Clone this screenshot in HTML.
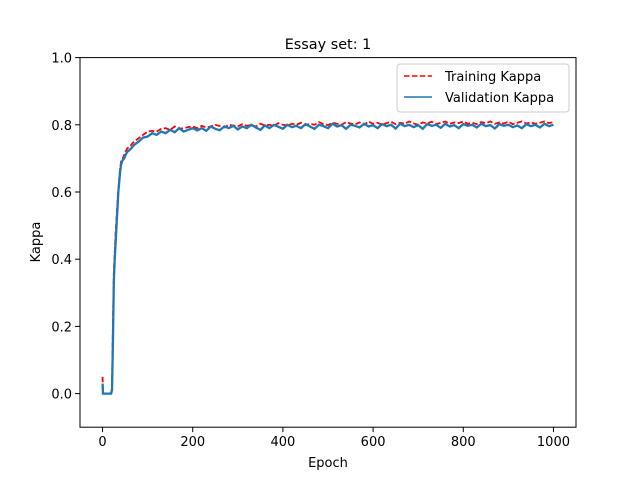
<!DOCTYPE html>
<html><head><meta charset="utf-8"><style>
body{margin:0;background:#fff}
svg text{font-family:"DejaVu Sans","Liberation Sans",sans-serif;fill:#000}
</style></head><body>
<svg id="chart" width="640" height="480" viewBox="0 0 640 480" xmlns="http://www.w3.org/2000/svg">
<rect width="640" height="480" fill="#fff"/>
<g id="plot"></g>
<rect x="80" y="57.6" width="496" height="369.6" fill="none" stroke="#000" stroke-width="1"/>
<g id="xticks"></g>
<g id="yticks"></g>
<text x="328" y="49" font-size="14.4" text-anchor="middle">Essay set: 1</text>
<text x="328" y="467" font-size="13" text-anchor="middle">Epoch</text>
<text x="40" y="242" font-size="13" text-anchor="middle" transform="rotate(-90 40 242)">Kappa</text>
<g>
<rect x="397" y="64" width="172" height="48" rx="3" fill="#fff" fill-opacity="0.8" stroke="#ccc"/>
<line x1="404" y1="76" x2="432" y2="76" stroke="#f00" stroke-width="1.5" stroke-dasharray="5.5,2.4"/>
<text x="445" y="81" font-size="13">Training Kappa</text>
<line x1="404" y1="97" x2="432" y2="97" stroke="#1f77b4" stroke-width="1.5"/>
<text x="445" y="102" font-size="13">Validation Kappa</text>
</g>
</svg>
<script>
const epochsEarly=[0,1,2,5,10,15,19,21,23,25,27,29,31,33,35,37,39,41,43,45,48,51,55];
const trainEarly=[0.05,0.0,0.0,0.0,0.0,0.0,0.0,0.02,0.2,0.36,0.42,0.48,0.52,0.57,0.6,0.64,0.67,0.69,0.7,0.7,0.71,0.72,0.73];
const valEarly=[0.03,0.0,0.0,0.0,0.0,0.0,0.0,0.01,0.15,0.33,0.4,0.45,0.5,0.55,0.6,0.63,0.66,0.68,0.69,0.695,0.7,0.71,0.72];
const trainLate=[0.735,0.75,0.76,0.77,0.78,0.782,0.78,0.788,0.79,0.785,0.795,0.788,0.79,0.793,0.795,0.79,0.797,0.792,0.795,0.8,0.796,0.792,0.8,0.798,0.795,0.802,0.797,0.8,0.795,0.803,0.798,0.8,0.797,0.805,0.8,0.798,0.803,0.8,0.806,0.799,0.803,0.8,0.808,0.802,0.799,0.806,0.803,0.8,0.808,0.804,0.801,0.807,0.8,0.81,0.803,0.806,0.8,0.805,0.809,0.802,0.806,0.803,0.81,0.804,0.8,0.807,0.804,0.809,0.802,0.806,0.81,0.803,0.807,0.805,0.81,0.803,0.806,0.802,0.808,0.805,0.81,0.803,0.807,0.804,0.809,0.802,0.806,0.81,0.804,0.807,0.803,0.806,0.81,0.805,0.808];
const valLate=[0.725,0.74,0.75,0.762,0.765,0.775,0.77,0.78,0.775,0.785,0.778,0.79,0.78,0.785,0.79,0.783,0.79,0.782,0.795,0.788,0.784,0.795,0.79,0.797,0.786,0.795,0.79,0.8,0.792,0.785,0.798,0.79,0.8,0.794,0.788,0.8,0.793,0.797,0.79,0.802,0.795,0.788,0.8,0.796,0.79,0.803,0.795,0.799,0.788,0.8,0.797,0.792,0.803,0.795,0.799,0.79,0.802,0.796,0.8,0.789,0.803,0.796,0.8,0.793,0.799,0.788,0.802,0.797,0.8,0.791,0.803,0.795,0.799,0.79,0.802,0.797,0.8,0.792,0.803,0.796,0.799,0.789,0.802,0.797,0.8,0.793,0.798,0.79,0.802,0.796,0.8,0.792,0.803,0.796,0.8];
const xTicks=[0,200,400,600,800,1000];
const yTicks=[0.0,0.2,0.4,0.6,0.8,1.0];
const yTickLabels=["0.0","0.2","0.4","0.6","0.8","1.0"];

const X0=80,X1=576,Y0=427.2,Y1=57.6;
const xs=v=>X0+(v+50)/1100*(X1-X0);
const ys=v=>Y0-(v+0.1)/1.1*(Y0-Y1);
const NS="http://www.w3.org/2000/svg";
const lateEpochs=trainLate.map((_,i)=>60+i*10);
const ep=epochsEarly.concat(lateEpochs);
const tr=trainEarly.concat(trainLate);
const va=valEarly.concat(valLate);
const plot=document.getElementById('plot');
function line(vals,color,dash,name,w){
  const p=document.createElementNS(NS,'polyline');
  p.setAttribute('points',vals.map((v,i)=>xs(ep[i]).toFixed(2)+','+ys(v).toFixed(2)).join(' '));
  p.setAttribute('fill','none');p.setAttribute('stroke',color);p.setAttribute('stroke-width',w);
  if(dash)p.setAttribute('stroke-dasharray',dash);
  
  
  plot.appendChild(p);
}
line(tr,'#f00','5.5,2.4','training-kappa-line','1.8');
line(va,'#1f77b4',null,'validation-kappa-line','2.3');
const xg=document.getElementById('xticks');
xTicks.forEach(t=>{
  const x=xs(t);
  const l=document.createElementNS(NS,'line');
  l.setAttribute('x1',x);l.setAttribute('x2',x);l.setAttribute('y1',Y0);l.setAttribute('y2',Y0+4.9);l.setAttribute('stroke','#000');
  
  
  xg.appendChild(l);
  const tx=document.createElementNS(NS,'text');
  tx.setAttribute('x',x);tx.setAttribute('y',Y0+19);tx.setAttribute('font-size','13');tx.setAttribute('text-anchor','middle');
  tx.textContent=t;
  
  
  xg.appendChild(tx);
});
const yg=document.getElementById('yticks');
yTicks.forEach((t,i)=>{
  const y=ys(t);
  const l=document.createElementNS(NS,'line');
  l.setAttribute('x1',X0-4.9);l.setAttribute('x2',X0);l.setAttribute('y1',y);l.setAttribute('y2',y);l.setAttribute('stroke','#000');
  
  
  yg.appendChild(l);
  const tx=document.createElementNS(NS,'text');
  tx.setAttribute('x',X0-8);tx.setAttribute('y',y+5);tx.setAttribute('font-size','13');tx.setAttribute('text-anchor','end');
  tx.textContent=yTickLabels[i];
  
  
  yg.appendChild(tx);
});
</script>
</body></html>
